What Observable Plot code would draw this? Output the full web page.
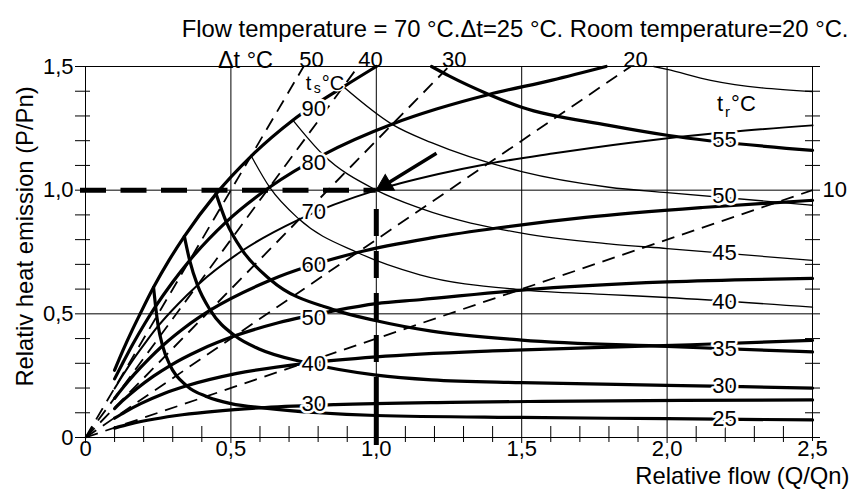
<!DOCTYPE html>
<html><head><meta charset="utf-8">
<style>html,body{margin:0;padding:0;background:#fff;} svg{display:block;}</style>
<script src="https://cdn.jsdelivr.net/npm/d3@7"></script>
<script src="https://cdn.jsdelivr.net/npm/@observablehq/plot@0.6"></script>
</head><body><div id="chart"></div>
<script>
// ---- supply temperature curves ts (Q/Qn, P/Pn) ----
const ts30 = [[0.1,0.038],[0.154,0.055],[0.238,0.075],[0.333,0.092],[0.453,0.107],[0.617,0.121],[0.858,0.133],[1.256,0.142],[1.57,0.146],[2.05,0.150],[2.5,0.152]];
const ts40 = [[0.1,0.078],[0.137,0.104],[0.190,0.137],[0.266,0.176],[0.348,0.209],[0.517,0.258],[0.760,0.300],[1.0,0.326],[1.40,0.350],[1.72,0.362],[2.08,0.375],[2.5,0.393]];
const ts50 = [[0.1,0.117],[0.132,0.153],[0.176,0.197],[0.234,0.248],[0.291,0.291],[0.394,0.354],[0.514,0.411],[0.663,0.464],[0.858,0.513],[1.0,0.541],[1.15,0.557],[1.5,0.596],[2.0,0.629],[2.5,0.643]];
const ts60 = [[0.1,0.158],[0.130,0.203],[0.169,0.257],[0.219,0.319],[0.265,0.371],[0.344,0.447],[0.429,0.515],[0.637,0.637],[0.935,0.748],[1.194,0.808],[1.422,0.848],[1.719,0.890],[2.121,0.930],[2.5,0.959]];
const ts70 = [[0.1,0.198],[0.129,0.253],[0.165,0.317],[0.210,0.390],[0.250,0.451],[0.317,0.538],[0.385,0.616],[0.540,0.756],[0.735,0.882],[1.0,1.0],[1.214,1.065],[1.391,1.108],[1.606,1.148],[1.874,1.192],[2.218,1.236],[2.5,1.262]];
const ts80 = [[0.1,0.237],[0.129,0.303],[0.163,0.378],[0.204,0.461],[0.241,0.530],[0.300,0.629],[0.358,0.716],[0.484,0.872],[0.633,1.012],[0.817,1.143],[1.056,1.268],[1.207,1.328],[1.387,1.387],[1.605,1.445],[1.79,1.5]];
const ts90 = [[0.1,0.272],[0.128,0.350],[0.161,0.435],[0.188,0.500],[0.234,0.607],[0.288,0.718],[0.340,0.813],[0.449,0.985],[0.570,1.138],[0.713,1.283],[0.887,1.418],[1.0,1.5]];

// ---- return temperature curves tr ----
const tr25 = [[0.234,0.607],[0.241,0.530],[0.250,0.451],[0.265,0.371],[0.291,0.291],[0.348,0.209],[0.418,0.165],[0.50,0.137],[0.617,0.119],[0.80,0.100],[1.0,0.089],[1.5,0.081],[2.0,0.076],[2.5,0.071]];
const tr30 = [[0.340,0.813],[0.358,0.717],[0.385,0.616],[0.429,0.515],[0.514,0.411],[0.597,0.358],[0.760,0.302],[1.0,0.252],[1.19,0.233],[1.5,0.222],[2.0,0.211],[2.5,0.200]];
const tr35 = [[0.449,0.985],[0.484,0.872],[0.540,0.756],[0.637,0.637],[0.858,0.515],[1.0,0.472],[1.19,0.430],[1.5,0.394],[2.0,0.368],[2.5,0.346]];
const tr40 = [[0.570,1.138],[0.633,1.012],[0.735,0.882],[0.935,0.748],[1.15,0.658],[1.5,0.597],[1.8,0.578],[2.0,0.566],[2.5,0.527]];
const tr45 = [[0.713,1.283],[0.817,1.143],[1.0,1.0],[1.15,0.927],[1.5,0.826],[1.8,0.783],[2.0,0.764],[2.5,0.716]];
const tr50 = [[0.887,1.418],[1.056,1.265],[1.19,1.192],[1.5,1.075],[1.8,1.012],[2.0,0.990],[2.5,0.939]];
const tr55 = [[1.19,1.5],[1.25,1.462],[1.387,1.387],[1.5,1.335],[1.8,1.262],[2.0,1.222],[2.5,1.161]];
const tr60 = [[1.954,1.5],[2.0,1.488],[2.15,1.444],[2.5,1.399]];

// ---- constant temperature-drop lines (Δt °C): end points ----
const dtValues = [50, 40, 30, 20, 10];
const dtEndQ   = [0.75, 0.9375, 1.25, 1.875, 2.5];
const dtEndP   = [1.5, 1.5, 1.5, 1.5, 1.0];

// ---- labels ----
const tsLabelText = ["30","40","50","60","70","80","90"];
const tsLabelQ = [0.785,0.785,0.785,0.785,0.785,0.785,0.785];
const tsLabelP = [0.1345,0.299,0.483,0.696,0.912,1.11,1.329];
const trLabelText = ["55","50","45","40","35","30","25"];
const trLabelQ = [2.197,2.197,2.197,2.197,2.197,2.197,2.197];
const trLabelP = [1.201,0.976,0.747,0.548,0.357,0.209,0.077];
const dtTopText = ["50","40","30","20"];
const dtTopQ = [0.777,0.98,1.268,1.891];

// ---- axis ticks ----
const xTickVals = [0, 0.5, 1.0, 1.5, 2.0, 2.5];
const xTickLabels = ["0","0,5","1,0","1,5","2,0","2,5"];
const yTickVals = [0, 0.5, 1.0, 1.5];
const yTickLabels = ["0","0,5","1,0","1,5"];
const xMinor = [0.1,0.2,0.3,0.4,0.6,0.7,0.8,0.9,1.1,1.2,1.3,1.4,1.6,1.7,1.8,1.9,2.1,2.2,2.3,2.4];
const yMinor = [0.1,0.2,0.3,0.4,0.6,0.7,0.8,0.9,1.1,1.2,1.3,1.4];

// ---- operating point & arrow ----
const opQ = 1.0, opP = 1.0;
const arrowFrom = [1.207, 1.149];

const titleText = "Flow temperature = 70 °C.Δt=25 °C. Room temperature=20 °C.";
const xLabel = "Relative flow (Q/Qn)";
const yLabel = "Relativ heat emission (P/Pn)";

// ---- build ----
const curves = [
  ["ts30", ts30], ["ts40", ts40], ["ts50", ts50], ["ts60", ts60], ["ts70", ts70], ["ts80", ts80], ["ts90", ts90],
  ["tr25", tr25], ["tr30", tr30], ["tr35", tr35], ["tr40", tr40], ["tr45", tr45], ["tr50", tr50], ["tr55", tr55], ["tr60", tr60]
];
const weight = {ts30:3.2, ts40:3.2, ts50:3.2, ts60:3.2, ts70:2, ts80:3.2, ts90:3.2,
  tr25:3.2, tr30:3.2, tr35:3.2, tr40:1.3, tr45:1.3, tr50:1.4, tr55:3.2, tr60:1.3};

const curveMarks = curves.map(([id, pts]) => Plot.line(pts, {
  x: d => d[0], y: d => d[1], stroke: "black", strokeWidth: weight[id],
  curve: "monotone-x", strokeLinejoin: "round"
}));

const dtLines = dtValues.map((v, i) => ({v, q: dtEndQ[i], p: dtEndP[i]}));
const tsLabels = tsLabelText.map((t, i) => ({t, q: tsLabelQ[i], p: tsLabelP[i]}));
const trLabels = trLabelText.map((t, i) => ({t, q: trLabelQ[i], p: trLabelP[i]}));
const dtTop = dtTopText.map((t, i) => ({t, q: dtTopQ[i]}));
const op = [{q: opQ, p: opP}];

const halo = {fill: "black", stroke: "white", strokeWidth: 5};

const chart = Plot.plot({
  width: 864, height: 499,
  marginLeft: 85, marginRight: 52, marginTop: 66, marginBottom: 62,
  x: {domain: [0, 2.5], axis: null},
  y: {domain: [0, 1.5], axis: null},
  style: {fontFamily: "'Liberation Sans', Arial, sans-serif", fontSize: "22px", background: "white", color: "black", overflow: "visible"},
  marks: [
    // grid & frame
    Plot.tickX(xMinor, {x: d => d, stroke: "black", strokeWidth: 1, insetTop: 360, insetBottom: -5}),
    Plot.tickX([0, 0.5, 1.0, 1.5, 2.0], {x: d => d, stroke: "black", strokeWidth: 1, insetBottom: -6}),
    Plot.tickX([2.5], {x: d => d, stroke: "black", strokeWidth: 1, insetBottom: -4}),
    Plot.tickY(yMinor, {y: d => d, stroke: "black", strokeWidth: 1, insetLeft: -10, insetRight: 722}),
    Plot.tickY(yMinor, {y: d => d, stroke: "black", strokeWidth: 1, insetLeft: 720, insetRight: -8}),
    Plot.tickY(yTickVals, {y: d => d, stroke: "black", strokeWidth: 1, insetLeft: -10, insetRight: -8}),
    // tick labels
    Plot.text(xTickVals, {x: d => d, text: (d, i) => xTickLabels[i], frameAnchor: "bottom", dy: 18, fontSize: 22}),
    Plot.text(yTickVals, {y: d => d, text: (d, i) => yTickLabels[i], frameAnchor: "left", dx: -12, textAnchor: "end", fontSize: 22}),
    // curves
    ...curveMarks,
    // Δt dashed lines
    Plot.link(dtLines, {x1: () => 0, y1: () => 0, x2: "q", y2: "p", stroke: "black", strokeWidth: 1.8, strokeDasharray: "13,8"}),
    // curve labels
    Plot.text(tsLabels, {x: "q", y: "p", text: "t", ...halo}),
    Plot.text(trLabels, {x: "q", y: "p", text: "t", ...halo}),
    Plot.text(dtTop, {x: "q", text: "t", frameAnchor: "top", dy: -15}),
    Plot.text(["Δt °C"], {x: () => 0.55, frameAnchor: "top", dy: -15, fontSize: 23.5}),
    Plot.text(["10"], {x: () => 2.5, y: () => 1.0, dx: 10, textAnchor: "start"}),
    // ts °C / tr °C
    Plot.text(["t"], {x: () => 0.757, y: () => 1.405, lineAnchor: "bottom", textAnchor: "start", ...halo, strokeWidth: 3, fontSize: 20}),
    Plot.text(["s"], {x: () => 0.757, y: () => 1.405, lineAnchor: "bottom", textAnchor: "start", dx: 8, dy: 3, fontSize: 14}),
    Plot.text(["°C"], {x: () => 0.757, y: () => 1.405, lineAnchor: "bottom", textAnchor: "start", dx: 16, ...halo, strokeWidth: 3, fontSize: 20}),
    Plot.text(["t"], {x: () => 2.172, y: () => 1.322, lineAnchor: "bottom", textAnchor: "start"}),
    Plot.text(["r"], {x: () => 2.172, y: () => 1.322, lineAnchor: "bottom", textAnchor: "start", dx: 8, dy: 6, fontSize: 15}),
    Plot.text(["°C"], {x: () => 2.172, y: () => 1.322, lineAnchor: "bottom", textAnchor: "start", dx: 14}),
    // operating point reference lines
    Plot.ruleY(op, {y: "p", x1: () => 0, x2: "q", insetLeft: -5, stroke: "black", strokeWidth: 5, strokeDasharray: "26,14.5"}),
    Plot.ruleX(op, {x: "q", y1: () => 0, y2: "p", insetTop: 8, stroke: "black", strokeWidth: 5, strokeDasharray: "68,15,27,15,27,15,27,15,27,20"}),
    // arrow
    Plot.link(op, {x1: () => arrowFrom[0], y1: () => arrowFrom[1], x2: "q", y2: "p", stroke: "black", strokeWidth: 3.5}),
    Plot.dot(op, {x: "q", y: "p", symbol: "triangle", r: 6.8, fill: "black", stroke: "black", strokeWidth: 1, rotate: 239.7, dx: 9, dy: -5.2}),
    // titles
    Plot.text([titleText], {frameAnchor: "top-right", dx: 36, dy: -46, textAnchor: "end", fontSize: 23.8}),
    Plot.text([xLabel], {frameAnchor: "bottom-right", dx: 37, dy: 46, textAnchor: "end", fontSize: 23.8}),
    Plot.text([yLabel], {frameAnchor: "left", dx: -60, dy: -15.5, rotate: -90, textAnchor: "middle", fontSize: 23.8})
  ]
});
document.getElementById("chart").appendChild(chart);
</script>
</body></html>
